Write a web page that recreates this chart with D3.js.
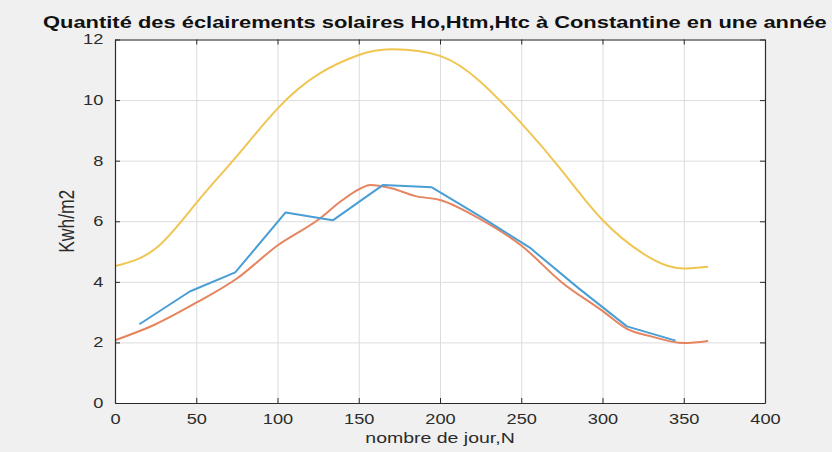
<!DOCTYPE html>
<html>
<head>
<meta charset="utf-8">
<script src="https://cdn.jsdelivr.net/npm/d3@7"></script>
<style>
  html, body { margin: 0; padding: 0; background: #f0f0f0; }
  svg { display: block; font-family: "Liberation Sans", Arial, sans-serif; }
</style>
</head>
<body>
<div id="chart"></div>
<script>
// Ho : extraterrestrial daily irradiation (yellow)
const hoDays   = [0, 25, 50, 75, 100, 125, 150, 170, 200, 225, 250, 275, 300, 325, 340, 350, 365];
const hoValues = [4.52, 5.1, 6.6, 8.15, 9.72, 10.85, 11.49, 11.68, 11.46, 10.6, 9.24, 7.67, 6.04, 4.93, 4.53, 4.44, 4.5];

// Htc : computed (orange)
const htcDays   = [0, 25, 50, 75, 100, 125, 140, 150, 157, 170, 185, 200, 225, 250, 275, 300, 315, 330, 350, 365];
const htcValues = [2.07, 2.6, 3.31, 4.11, 5.2, 6.05, 6.7, 7.05, 7.2, 7.09, 6.83, 6.7, 6.06, 5.2, 3.98, 3.04, 2.45, 2.2, 1.98, 2.05];

// Htm : measured monthly means (blue)
const htmDays   = [15, 46, 74, 105, 134, 165, 195, 226, 255, 285, 315, 345];
const htmValues = [2.6, 3.68, 4.31, 6.29, 6.03, 7.2, 7.12, 6.12, 5.14, 3.8, 2.53, 2.06];

const xTicks = [0, 50, 100, 150, 200, 250, 300, 350, 400];
const yTicks = [0, 2, 4, 6, 8, 10, 12];

const W = 832, H = 452;
const MARGIN = { TOP: 39.5, BOTTOM: 49, LEFT: 115, RIGHT: 67 };
const WIDTH = W - MARGIN.LEFT - MARGIN.RIGHT;
const HEIGHT = H - MARGIN.TOP - MARGIN.BOTTOM;
const SX = 1.3; // picture is stretched horizontally
const INK = "#2b2b2b";

const svg = d3.select("#chart").append("svg")
  .attr("width", W)
  .attr("height", H);

svg.append("rect").attr("width", W).attr("height", H).attr("fill", "#f0f0f0");

const g = svg.append("g")
  .attr("transform", `translate(${MARGIN.LEFT}, ${MARGIN.TOP})`);

const x = d3.scaleLinear().domain([0, 400]).range([0, WIDTH]);
const y = d3.scaleLinear().domain([0, 12]).range([HEIGHT, 0]);

g.append("rect")
  .attr("width", WIDTH)
  .attr("height", HEIGHT)
  .attr("fill", "#fff");

// grid
g.append("g")
  .attr("transform", `translate(0, ${HEIGHT})`)
  .call(d3.axisBottom(x).tickValues(xTicks).tickSize(-HEIGHT).tickFormat(""))
  .call(s => s.select(".domain").remove())
  .call(s => s.selectAll("line").attr("stroke", "#dcdcdc"));
g.append("g")
  .call(d3.axisLeft(y).tickValues(yTicks).tickSize(-WIDTH).tickFormat(""))
  .call(s => s.select(".domain").remove())
  .call(s => s.selectAll("line").attr("stroke", "#dcdcdc"));

// lines
const series = [
  { days: hoDays, values: hoValues, color: "#f0c552", curve: d3.curveNatural },
  { days: htcDays, values: htcValues, color: "#e6845f", curve: d3.curveMonotoneX },
  { days: htmDays, values: htmValues, color: "#4a9ed6", curve: d3.curveLinear }
];

series.forEach(s => {
  const line = d3.line()
    .x((d, i) => x(s.days[i]))
    .y(d => y(d))
    .curve(s.curve);
  g.append("path")
    .datum(s.values)
    .attr("fill", "none")
    .attr("stroke", s.color)
    .attr("stroke-width", 2)
    .attr("stroke-linejoin", "round")
    .attr("d", line);
});

// axes (ticks inside, box on)
function styleAxis(sel) {
  sel.select(".domain").attr("stroke", INK).attr("stroke-width", 1.2);
  sel.selectAll(".tick line").attr("stroke", INK);
  sel.selectAll(".tick text")
    .attr("fill", INK)
    .attr("font-size", 14)
    .attr("font-family", "'Liberation Sans', Arial, sans-serif")
    .attr("transform", `scale(${SX},1)`);
}

g.append("g")
  .attr("transform", `translate(0, ${HEIGHT})`)
  .call(d3.axisBottom(x).tickValues(xTicks).tickSizeInner(-5).tickSizeOuter(0).tickPadding(11))
  .call(styleAxis);
g.append("g")
  .call(d3.axisLeft(y).tickValues(yTicks).tickSizeInner(-5).tickSizeOuter(0).tickPadding(9))
  .call(styleAxis);
g.append("g")
  .call(d3.axisTop(x).tickValues(xTicks).tickSizeInner(-5).tickSizeOuter(0).tickFormat(""))
  .call(styleAxis);
g.append("g")
  .attr("transform", `translate(${WIDTH}, 0)`)
  .call(d3.axisRight(y).tickValues(yTicks).tickSizeInner(-5).tickSizeOuter(0).tickFormat(""))
  .call(styleAxis);

// labels
svg.append("text")
  .attr("transform", `translate(43, 28) scale(1.37,1)`)
  .attr("font-size", 16)
  .attr("font-weight", "bold")
  .attr("fill", "#111")
  .text("Quantité des éclairements solaires Ho,Htm,Htc à Constantine en une année");

svg.append("text")
  .attr("transform", `translate(${MARGIN.LEFT + WIDTH / 2}, 443) scale(${SX},1)`)
  .attr("text-anchor", "middle")
  .attr("font-size", 15)
  .attr("fill", INK)
  .text("nombre de jour,N");

svg.append("text")
  .attr("transform", `translate(74, ${MARGIN.TOP + HEIGHT / 2}) scale(${SX},1) rotate(-90)`)
  .attr("text-anchor", "middle")
  .attr("font-size", 17.5)
  .attr("fill", INK)
  .text("Kwh/m2");
</script>
</body>
</html>
